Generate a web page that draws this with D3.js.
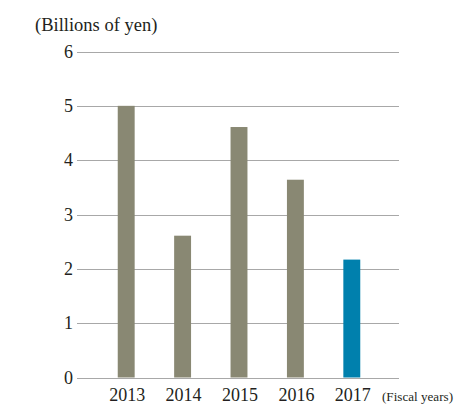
<!DOCTYPE html>
<html>
<head>
<meta charset="utf-8">
<script src="https://cdn.jsdelivr.net/npm/d3@7"></script>
<style>
  body { margin: 0; background: #fff; }
  svg { display: block; }
</style>
</head>
<body>
<script>
'use strict';

// chart data
const years = ["2013", "2014", "2015", "2016", "2017"];
const values = [5.0, 2.61, 4.61, 3.64, 2.17];
const yTicks = [0, 1, 2, 3, 4, 5, 6];

const width = 455, height = 405;
const serif = "'Liberation Serif', 'Times New Roman', Times, 'DejaVu Serif', serif";

const svg = d3.select('body').append('svg')
  .attr('width', width)
  .attr('height', height)
  .style('font-family', serif);

// scales
const x = d3.scaleBand()
  .domain(years)
  .range([98, 380])
  .paddingInner(0.7)
  .paddingOuter(0.35);

const y = d3.scaleLinear()
  .domain([0, 6])
  .range([377.5, 51.5]);

// gridlines
svg.append('g')
  .selectAll('line')
  .data(yTicks)
  .enter()
  .append('line')
  .attr('x1', 77)
  .attr('x2', 399)
  .attr('y1', d => Math.round(y(d)) + 0.5)
  .attr('y2', d => Math.round(y(d)) + 0.5)
  .attr('stroke', '#a8a8a8')
  .attr('stroke-width', 1.2);

// y tick labels
svg.append('g')
  .selectAll('text')
  .data(yTicks)
  .enter()
  .append('text')
  .attr('x', 73)
  .attr('y', d => y(d) + 6)
  .attr('text-anchor', 'end')
  .attr('font-family', serif)
  .attr('fill', '#231f20')
  .style('font-size', '18px')
  .text(d => d);

// bars
svg.append('g')
  .selectAll('rect')
  .data(values)
  .enter()
  .append('rect')
  .attr('x', (d, i) => x(years[i]))
  .attr('y', d => y(d))
  .attr('width', x.bandwidth())
  .attr('height', d => y(0) - y(d))
  .attr('fill', (d, i) => i === years.length - 1 ? '#0080ad' : '#898873');

// x labels
svg.append('g')
  .selectAll('text')
  .data(years)
  .enter()
  .append('text')
  .attr('x', d => x(d) + x.bandwidth() / 2 + 1)
  .attr('y', 401)
  .attr('text-anchor', 'middle')
  .attr('font-family', serif)
  .attr('fill', '#231f20')
  .style('font-size', '18px')
  .text(d => d);

// unit labels
svg.append('text')
  .attr('x', 35)
  .attr('y', 31)
  .attr('font-family', serif)
  .attr('fill', '#231f20')
  .style('font-size', '18.5px')
  .text('(Billions of yen)');

svg.append('text')
  .attr('x', 382)
  .attr('y', 401)
  .attr('textLength', 71)
  .attr('lengthAdjust', 'spacingAndGlyphs')
  .attr('font-family', serif)
  .attr('fill', '#231f20')
  .style('font-size', '13px')
  .text('(Fiscal years)');
</script>
</body>
</html>
